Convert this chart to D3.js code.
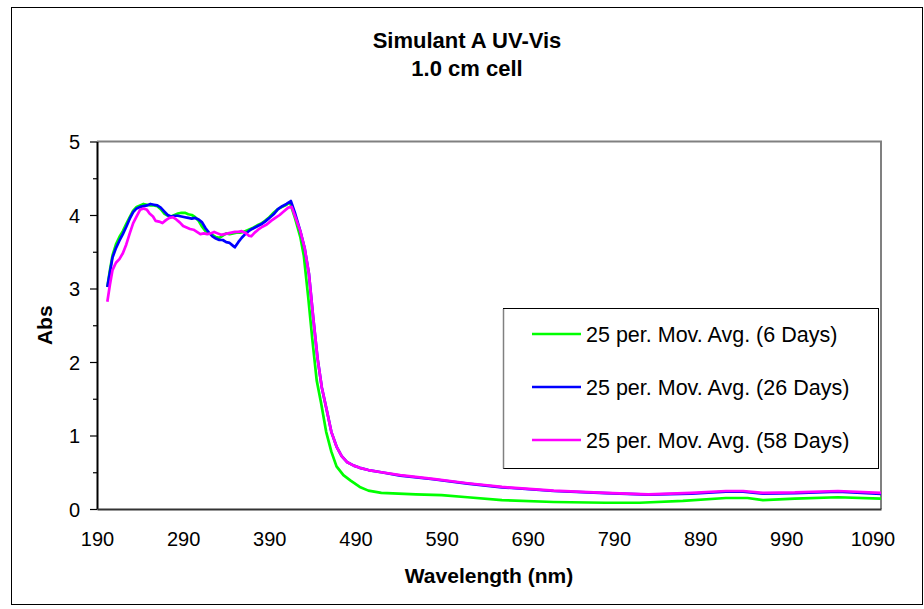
<!DOCTYPE html>
<html><head><meta charset="utf-8">
<script src="https://cdn.jsdelivr.net/npm/d3@7"></script>
<style>body{margin:0;background:#fff}svg{display:block}text{font-family:"Liberation Sans",Arial,sans-serif}</style>
</head><body><svg id="c" width="924" height="609"></svg>
<script>
const seriesNames = ["25 per. Mov. Avg. (6 Days)", "25 per. Mov. Avg. (26 Days)", "25 per. Mov. Avg. (58 Days)"];
const seriesColors = ["#00ff00", "#0000ff", "#ff00ff"];
const xTicks = [190, 290, 390, 490, 590, 690, 790, 890, 990, 1090];
const yTicks = [0, 1, 2, 3, 4, 5];

const wl6 = [202,205,208,212,216,220,224,228,232,236,240,244,248,252,256,260,264,268,272,276,280,284,288,292,296,300,304,308,312,316,320,324,328,332,336,340,344,348,352,356,360,364,368,372,376,380,385,390,395,400,405,410,414,420,426,430,435,440,445,450,456,462,468,476,484,495,505,520,540,560,590,620,660,720,780,820,870,920,945,963,1000,1050,1100];
const abs6 = [3.02,3.25,3.45,3.60,3.70,3.78,3.88,3.97,4.06,4.11,4.13,4.15,4.14,4.13,4.13,4.12,4.08,4.02,3.99,3.98,4.00,4.02,4.03,4.03,4.01,4.00,3.97,3.92,3.84,3.78,3.75,3.73,3.70,3.69,3.72,3.75,3.74,3.75,3.76,3.76,3.77,3.79,3.81,3.83,3.86,3.88,3.92,3.97,4.03,4.08,4.11,4.14,4.17,3.95,3.70,3.45,2.90,2.30,1.75,1.45,1.05,0.78,0.58,0.46,0.39,0.30,0.25,0.22,0.21,0.20,0.19,0.16,0.12,0.095,0.085,0.085,0.11,0.15,0.15,0.12,0.14,0.16,0.14];

const wl26 = [202,205,208,212,216,220,224,228,232,236,240,244,248,252,256,260,264,268,272,276,280,284,288,292,296,300,304,308,312,316,320,324,328,332,336,340,344,348,350,354,358,362,366,370,375,380,385,390,395,400,405,410,415,420,426,431,436,441,446,451,456,462,468,474,480,488,495,505,520,542,580,620,660,720,780,830,880,920,940,963,1000,1050,1100];
const abs26 = [3.02,3.22,3.42,3.55,3.65,3.74,3.84,3.95,4.04,4.09,4.11,4.12,4.13,4.15,4.14,4.13,4.10,4.05,4.00,3.98,3.99,3.99,3.98,3.97,3.96,3.95,3.96,3.94,3.90,3.82,3.76,3.71,3.68,3.66,3.66,3.63,3.62,3.58,3.56,3.63,3.69,3.74,3.78,3.81,3.84,3.87,3.91,3.96,4.01,4.08,4.12,4.15,4.19,4.02,3.78,3.55,3.20,2.60,2.05,1.65,1.38,1.05,0.85,0.72,0.64,0.59,0.56,0.53,0.50,0.455,0.405,0.345,0.295,0.245,0.215,0.195,0.21,0.235,0.235,0.21,0.215,0.235,0.205];

const wl58 = [202,205,208,212,216,220,224,228,232,236,240,244,248,251,255,258,262,266,270,274,278,282,286,290,294,298,302,306,310,314,318,322,326,330,334,338,342,346,350,354,358,362,366,369,373,377,382,387,392,397,402,407,412,416,420,426,431,436,441,446,451,456,462,468,474,480,488,495,505,520,542,580,620,660,720,780,830,880,920,940,963,1000,1050,1100];
const abs58 = [2.82,3.05,3.25,3.35,3.40,3.48,3.60,3.75,3.89,3.98,4.07,4.09,4.07,4.02,3.98,3.92,3.91,3.89,3.93,3.96,3.97,3.94,3.90,3.85,3.83,3.81,3.80,3.77,3.74,3.75,3.74,3.75,3.77,3.75,3.73,3.74,3.75,3.76,3.77,3.77,3.78,3.76,3.72,3.71,3.76,3.80,3.84,3.87,3.92,3.96,4.00,4.05,4.10,4.11,3.98,3.78,3.55,3.20,2.60,2.05,1.65,1.38,1.05,0.85,0.72,0.64,0.59,0.56,0.53,0.50,0.46,0.41,0.35,0.30,0.25,0.22,0.20,0.22,0.245,0.245,0.22,0.225,0.245,0.22];

const series = [[wl6, abs6], [wl26, abs26], [wl58, abs58]];

const svg = d3.select("#c");
const L = 97, R = 881, T = 141.5, B = 509;
const x = d3.scaleLinear().domain([190, 1100]).range([L, R]);
const y = d3.scaleLinear().domain([0, 5]).range([B, T]);
const FONT = "Liberation Sans, Arial, sans-serif";

// outer chart border
svg.append("rect").attr("x", 11.5).attr("y", 7.5).attr("width", 911).attr("height", 597)
  .attr("fill", "none").attr("stroke", "#000").attr("stroke-width", 1);

// plot area border (top/right gray)
svg.append("path").attr("d", `M${L},${T}H${R}V${B}`).attr("fill", "none")
  .attr("stroke", "#808080").attr("stroke-width", 2);

// title
const title = svg.append("text").attr("text-anchor", "middle").attr("font-weight", "bold").attr("font-size", 22);
title.append("tspan").attr("x", 467).attr("y", 48).text("Simulant A UV-Vis");
title.append("tspan").attr("x", 467).attr("y", 76).text("1.0 cm cell");

// lines
const line = d3.line().x(d => x(d[0])).y(d => y(d[1]));
series.forEach((s, i) => {
  const pts = s[0].map((w, k) => [w, s[1][k]]);
  svg.append("path").datum(pts).attr("d", line).attr("fill", "none")
    .attr("stroke", seriesColors[i]).attr("stroke-width", 2.7).attr("stroke-linejoin", "round");
});

// y axis
const yAxis = d3.axisLeft(y).tickValues(d3.range(0, 5.01, 0.5)).tickSize(7).tickSizeOuter(0)
  .tickFormat(d => yTicks.includes(d) ? d3.format("d")(d) : "");
const yg = svg.append("g").attr("transform", `translate(${L},0)`).call(yAxis);
yg.select(".domain").attr("stroke", "#000").attr("stroke-width", 2);
yg.selectAll(".tick line").attr("stroke", "#000").attr("stroke-width", 1.2)
  .attr("x2", d => yTicks.includes(d) ? -7 : -4);
yg.selectAll(".tick text").attr("font-size", 20).attr("fill", "#000").attr("x", -17)
  .attr("dy", "0.36em").attr("font-family", FONT);

// x axis
const xAxis = d3.axisBottom(x).tickValues(xTicks).tickSize(0).tickSizeOuter(0)
  .tickFormat(d3.format("d"));
const xg = svg.append("g").attr("transform", `translate(0,${B})`).call(xAxis);
xg.select(".domain").attr("stroke", "#333").attr("stroke-width", 2);
xg.selectAll(".tick text").attr("font-size", 20).attr("fill", "#000")
  .attr("y", 37).attr("dy", 0).attr("font-family", FONT);

// axis titles
svg.append("text").attr("x", (L + R) / 2).attr("y", 583).attr("text-anchor", "middle")
  .attr("font-weight", "bold").attr("font-size", 21).text("Wavelength (nm)");
svg.append("text").attr("transform", `translate(52,${(T + B) / 2}) rotate(-90)`).attr("text-anchor", "middle")
  .attr("font-weight", "bold").attr("font-size", 21).text("Abs");

// legend
const lg = svg.append("g");
lg.append("rect").attr("x", 503.5).attr("y", 308.5).attr("width", 375).attr("height", 160)
  .attr("fill", "#fff").attr("stroke", "#000").attr("stroke-width", 1);
lg.append("path").attr("d", "M503.5,309V468.5").attr("stroke", "#808080").attr("stroke-width", 1.5);
seriesNames.forEach((n, i) => {
  const yy = 334 + i * 53;
  lg.append("line").attr("x1", 532).attr("x2", 581).attr("y1", yy).attr("y2", yy)
    .attr("stroke", seriesColors[i]).attr("stroke-width", 2.5);
  lg.append("text").attr("x", 586).attr("y", yy + 8).attr("font-size", 21.5).text(n);
});
</script></body></html>
